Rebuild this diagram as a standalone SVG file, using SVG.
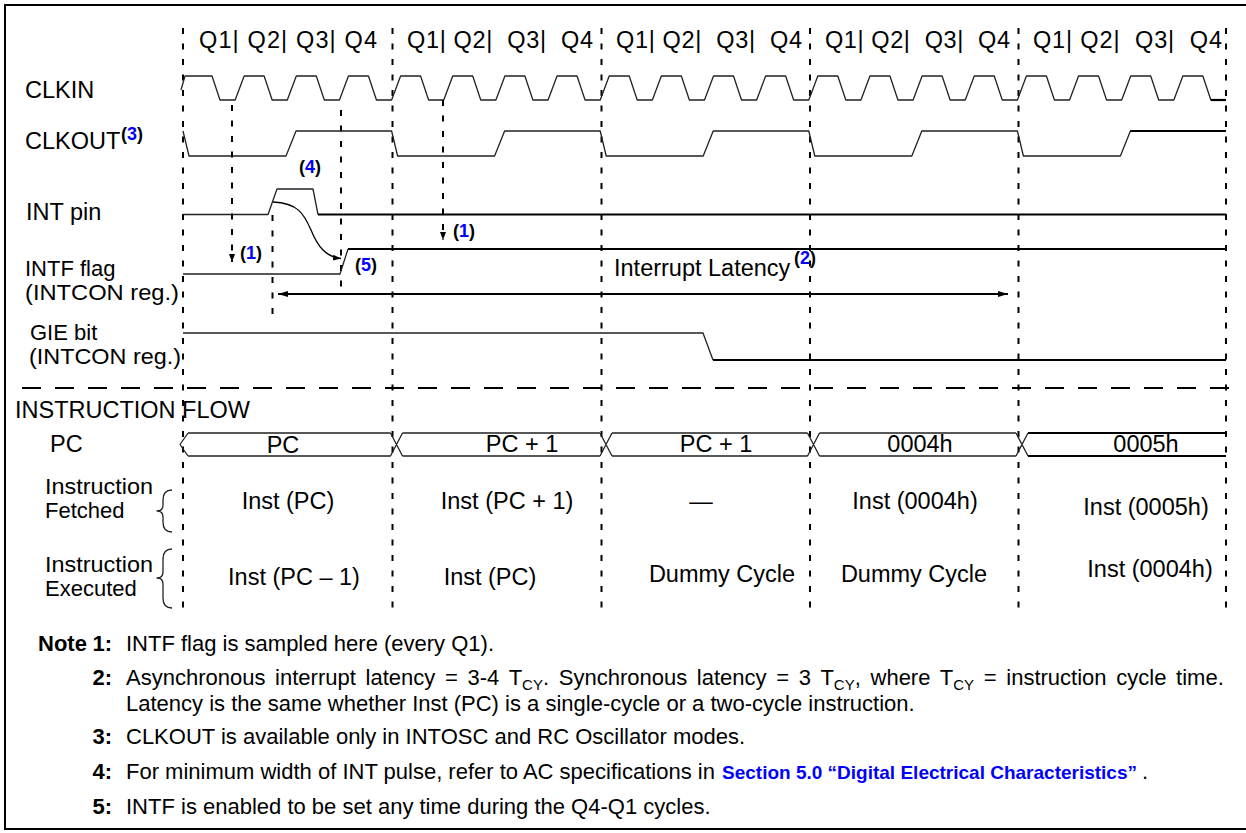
<svg xmlns="http://www.w3.org/2000/svg" width="1246" height="833" viewBox="0 0 1246 833">
<style>
text{font-family:"Liberation Sans",Arial,Helvetica,sans-serif;fill:#000}
.lbl{font-size:23.5px}
.lb2{font-size:22px}
.q{font-size:23.5px}
.ref{font-size:18px;font-weight:bold}
.blue{fill:#0000ff}
.note{font-size:22px}
.nb{font-size:22px;font-weight:bold}
.link{font-size:19px;font-weight:bold;fill:#0000ff}
.w{fill:none;stroke:#222;stroke-width:1.3;stroke-linejoin:round}
.wt{fill:none;stroke:#000;stroke-width:2.2}
.dash{fill:none;stroke:#000;stroke-width:2;stroke-dasharray:6 9.5}
.hdash{fill:none;stroke:#000;stroke-width:2;stroke-dasharray:19 14}
.mid{text-anchor:middle}
</style>
<defs>
<marker id="ahs" markerUnits="userSpaceOnUse" markerWidth="8" markerHeight="8" viewBox="0 0 8 8" refX="8" refY="4" orient="auto"><path d="M0,1 L8,4 L0,7 z" fill="#000"/></marker>
<marker id="ahl" markerUnits="userSpaceOnUse" markerWidth="10" markerHeight="8" viewBox="0 0 10 8" refX="10" refY="4" orient="auto-start-reverse"><path d="M0,1 L10,4 L0,7 z" fill="#000"/></marker>
</defs>
<rect x="5" y="5" width="1252" height="824" fill="#fff" stroke="#000" stroke-width="2"/>

<g id="grid">
<path class="dash" d="M183,28 V610 M392.5,28 V610 M601.5,28 V610 M810,28 V610 M1018.5,28 V610 M1226,28 V610"/>
<path class="dash" d="M341,110 V288 M272.5,215 V318"/>
<path class="hdash" d="M22,388 H1242"/>
</g>

<g id="quarters">
<text class="q" x="199" y="48" textLength="178" lengthAdjust="spacing" xml:space="preserve">Q1| Q2| Q3| Q4</text>
<text class="q" x="407" y="48" textLength="186" lengthAdjust="spacing" xml:space="preserve">Q1| Q2|  Q3|  Q4</text>
<text class="q" x="616" y="48" textLength="186" lengthAdjust="spacing" xml:space="preserve">Q1| Q2|  Q3|  Q4</text>
<text class="q" x="825" y="48" textLength="185" lengthAdjust="spacing" xml:space="preserve">Q1| Q2|  Q3|  Q4</text>
<text class="q" x="1033" y="48" textLength="189" lengthAdjust="spacing" xml:space="preserve">Q1| Q2|  Q3|  Q4</text>
</g>

<g id="clkin">
<text class="lbl" x="25" y="98">CLKIN</text>
<path class="w" d="M181,90 L185,76 L212,76 L220,100 L235.15,100 L244.15,76 L264.15,76 L272.15,100 L287.3,100 L296.3,76 L316.3,76 L324.3,100 L339.45,100 L348.45,76 L368.45,76 L376.45,100 L391.6,100 L400.6,76 L420.6,76 L428.6,100 L443.75,100 L452.75,76 L472.75,76 L480.75,100 L495.9,100 L504.9,76 L524.9,76 L532.9,100 L548.05,100 L557.05,76 L577.05,76 L585.05,100 L600.2,100 L609.2,76 L629.2,76 L637.2,100 L652.35,100 L661.35,76 L681.35,76 L689.35,100 L704.5,100 L713.5,76 L733.5,76 L741.5,100 L756.65,100 L765.65,76 L785.65,76 L793.65,100 L808.8,100 L817.8,76 L837.8,76 L845.8,100 L860.95,100 L869.95,76 L889.95,76 L897.95,100 L913.1,100 L922.1,76 L942.1,76 L950.1,100 L965.25,100 L974.25,76 L994.25,76 L1002.25,100 L1017.4,100 L1026.4,76 L1046.4,76 L1054.4,100 L1069.55,100 L1078.55,76 L1098.55,76 L1106.55,100 L1121.7,100 L1130.7,76 L1150.7,76 L1158.7,100 L1173.85,100 L1182.85,76 L1202.85,76 L1210.85,100 L1226,100"/>
<path class="wt" d="M1211,100 H1226"/>
</g>

<g id="clkout">
<text class="lbl" x="25" y="149">CLKOUT</text>
<text class="ref" x="121" y="140">(<tspan class="blue">3</tspan>)</text>
<path class="w" d="M183,131 L189,156 L286,156 L296,131 L391.6,131 L397.6,156 L494.6,156 L504.6,131 L600.2,131 L606.2,156 L703.2,156 L713.2,131 L808.8,131 L814.8,156 L911.8,156 L921.8,131 L1017.4,131 L1023.4,156 L1120.4,156 L1130.4,131 L1226,131"/>
<path class="wt" d="M1130.4,131 H1226"/>
</g>

<g id="intpin">
<text class="lbl" x="26" y="220">INT pin</text>
<path class="w" d="M183,214.5 L268,214.5 L277,189 L313,189 L318,214.5"/>
<path class="wt" d="M318,214.5 H1226"/>
<text class="ref" x="299" y="173">(<tspan class="blue">4</tspan>)</text>
</g>

<g id="intf">
<text class="lb2" x="25" y="276">INTF flag</text>
<text class="lb2" x="25" y="300" textLength="154" lengthAdjust="spacingAndGlyphs">(INTCON reg.)</text>
<path class="w" d="M183,274 L340,274 L348,249"/>
<path class="wt" d="M348,249 H1226"/>
<text class="ref" x="355" y="271">(<tspan class="blue">5</tspan>)</text>
<text class="ref" x="240" y="259">(<tspan class="blue">1</tspan>)</text>
<text class="ref" x="453" y="237">(<tspan class="blue">1</tspan>)</text>
<text class="lbl" x="614" y="276">Interrupt Latency</text>
<text class="ref" x="794" y="264">(<tspan class="blue">2</tspan>)</text>
</g>

<g id="gie">
<text class="lb2" x="30" y="340">GIE bit</text>
<text class="lb2" x="29" y="364" textLength="152" lengthAdjust="spacingAndGlyphs">(INTCON reg.)</text>
<path class="w" d="M183,333 L703,333 L713,360"/>
<path class="wt" d="M713,360 H1226"/>
</g>

<g id="connectors">
<path class="dash" d="M232,105 V262" marker-end="url(#ahs)"/>
<path class="dash" d="M443,100 V240" marker-end="url(#ahs)"/>
<path fill="none" stroke="#000" stroke-width="1.3" d="M273,202 C298,203 304,214 311,230 C318,247 326,257 341,258.5" marker-end="url(#ahs)"/>
<path fill="none" stroke="#000" stroke-width="2.2" d="M278,294 H1008" marker-start="url(#ahl)" marker-end="url(#ahl)"/>
</g>

<g id="instruction-flow">
<text class="lbl" x="15" y="418">INSTRUCTION FLOW</text>
<text class="lbl" x="50" y="452">PC</text>
<path class="w" d="M188,433 L180,444.5 L188,456 M188,433 H390.5 M188,456 H390.5 M390.5,433 L402.5,456 M390.5,456 L402.5,433 M402.5,433 H600 M402.5,456 H600 M600,433 L612,456 M600,456 L612,433 M612,433 H807.5 M612,456 H807.5 M807.5,433 L819.5,456 M807.5,456 L819.5,433 M819.5,433 H1016 M819.5,456 H1016 M1016,433 L1028,456 M1016,456 L1028,433"/>
<path class="wt" d="M1028,433 H1226 M1028,456 H1226"/>
<text class="lbl mid" x="283" y="453">PC</text>
<text class="lbl mid" x="522" y="452">PC + 1</text>
<text class="lbl mid" x="716" y="452">PC + 1</text>
<text class="lbl mid" x="920" y="452">0004h</text>
<text class="lbl mid" x="1146" y="452">0005h</text>
</g>

<g id="fetched">
<text class="lb2" x="45" y="494" textLength="108" lengthAdjust="spacingAndGlyphs">Instruction</text>
<text class="lb2" x="45" y="518">Fetched</text>
<path class="w" d="M172,490 Q163,490 163,500 L163,505 Q163,511 157,511 Q163,511 163,517 L163,522 Q163,532 172,532"/>
<text class="lbl mid" x="288" y="509">Inst (PC)</text>
<text class="lbl mid" x="507" y="509">Inst (PC + 1)</text>
<text class="lbl mid" x="701" y="509">—</text>
<text class="lbl mid" x="915" y="509">Inst (0004h)</text>
<text class="lbl mid" x="1146" y="515">Inst (0005h)</text>
</g>

<g id="executed">
<text class="lb2" x="45" y="572" textLength="108" lengthAdjust="spacingAndGlyphs">Instruction</text>
<text class="lb2" x="45" y="596">Executed</text>
<path class="w" d="M172,549 Q163,549 163,559 L163,572 Q163,578 157,578 Q163,578 163,584 L163,598 Q163,608 172,608"/>
<text class="lbl mid" x="294" y="585">Inst (PC – 1)</text>
<text class="lbl mid" x="490" y="585">Inst (PC)</text>
<text class="lbl mid" x="722" y="582">Dummy Cycle</text>
<text class="lbl mid" x="914" y="582">Dummy Cycle</text>
<text class="lbl mid" x="1150" y="577">Inst (0004h)</text>
</g>

<g id="notes">
<text class="nb" x="38" y="651">Note</text>
<text class="nb" x="112" y="651" text-anchor="end">1:</text>
<text class="note" x="126" y="651">INTF flag is sampled here (every Q1).</text>
<text class="nb" x="112" y="685" text-anchor="end">2:</text>
<text class="note" x="126" y="685" word-spacing="3.6">Asynchronous interrupt latency = 3-4 T<tspan font-size="15" dy="5">CY</tspan><tspan dy="-5">. Synchronous latency = 3 T</tspan><tspan font-size="15" dy="5">CY</tspan><tspan dy="-5">, where T</tspan><tspan font-size="15" dy="5">CY</tspan><tspan dy="-5"> = instruction cycle time.</tspan></text>
<text class="note" x="126" y="711">Latency is the same whether Inst (PC) is a single-cycle or a two-cycle instruction.</text>
<text class="nb" x="112" y="744" text-anchor="end">3:</text>
<text class="note" x="126" y="744">CLKOUT is available only in INTOSC and RC Oscillator modes.</text>
<text class="nb" x="112" y="779" text-anchor="end">4:</text>
<text class="note" x="126" y="779">For minimum width of INT pulse, refer to AC specifications in</text>
<text class="link" x="722" y="779">Section 5.0 “Digital Electrical Characteristics”</text>
<text class="note" x="1142" y="779">.</text>
<text class="nb" x="112" y="814" text-anchor="end">5:</text>
<text class="note" x="126" y="814">INTF is enabled to be set any time during the Q4-Q1 cycles.</text>
</g>
</svg>
